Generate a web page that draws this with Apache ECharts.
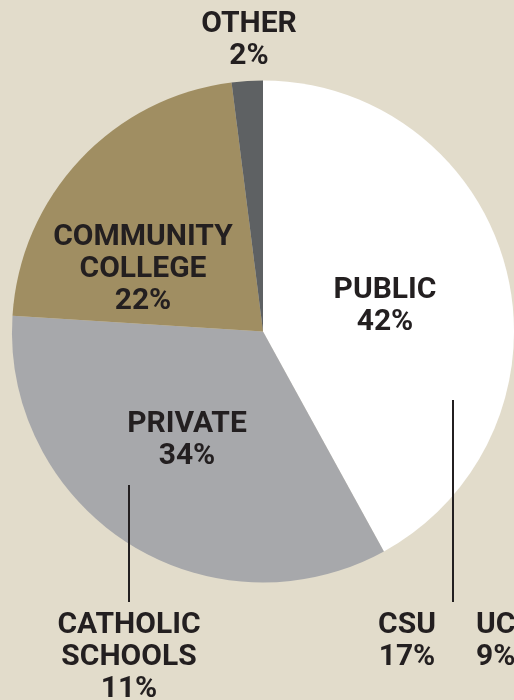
<!DOCTYPE html>
<html>
<head>
<meta charset="utf-8">
<script src="https://cdn.jsdelivr.net/npm/echarts@6/dist/echarts.min.js"></script>
<style>
html,body{margin:0;padding:0;background:#e2dccb;}
#c{width:514px;height:700px;}
</style>
</head>
<body>
<div id="c"></div>
<script>
// Data
const categories = ['PUBLIC', 'PRIVATE', 'COMMUNITY\nCOLLEGE', 'OTHER'];
const values = [42, 34, 22, 2];
const sliceColors = ['#ffffff', '#a7a8ab', '#a08e62', '#5e6163'];
const subCategories = ['CATHOLIC\nSCHOOLS', 'CSU', 'UC'];
const subValues = [11, 17, 9];

// Layout (positions for labels)
const labelPos = [[385, 306], [187, 440], [143, 269], [249, 40]];
const subLabelPos = [[129, 657, 'center'], [407, 641, 'center'], [476, 641, 'left']];
const leaderLines = [[129, 485, 129, 602], [453, 400, 453, 602]];

const FONT = 'Roboto, "DejaVu Sans", sans-serif';
const TEXT = '#231f20';

const chart = echarts.init(document.getElementById('c'), null, {renderer: 'canvas'});

const graphics = [];
leaderLines.forEach(l => {
  graphics.push({
    type: 'line', silent: true, z: 100,
    shape: {x1: l[0], y1: l[1], x2: l[2], y2: l[3]},
    style: {stroke: TEXT, lineWidth: 2}
  });
});
subCategories.forEach((c, i) => {
  const p = subLabelPos[i];
  graphics.push({
    type: 'text', silent: true, z: 100,
    x: p[0], y: p[1],
    style: {
      text: c + '\n' + subValues[i] + '%',
      fill: TEXT,
      font: 'bold 30px ' + FONT,
      lineHeight: 32,
      align: p[2],
      verticalAlign: 'middle'
    }
  });
});

chart.setOption({
  backgroundColor: '#e2dccb',
  animation: false,
  series: [{
    type: 'pie',
    center: [263, 331.5],
    radius: 251,
    startAngle: 90,
    clockwise: true,
    silent: true,
    data: categories.map((n, i) => ({
      name: n, value: values[i],
      itemStyle: {color: sliceColors[i]}
    })),
    label: {
      show: true,
      position: 'inside',
      formatter: p => p.name + '\n' + p.value + '%',
      color: TEXT,
      fontFamily: FONT,
      fontWeight: 'bold',
      fontSize: 30,
      lineHeight: 32,
      align: 'center'
    },
    labelLine: {show: false},
    labelLayout: params => ({
      x: labelPos[params.dataIndex][0],
      y: labelPos[params.dataIndex][1],
      align: 'center',
      verticalAlign: 'middle'
    })
  }],
  graphic: graphics
});
</script>
</body>
</html>
